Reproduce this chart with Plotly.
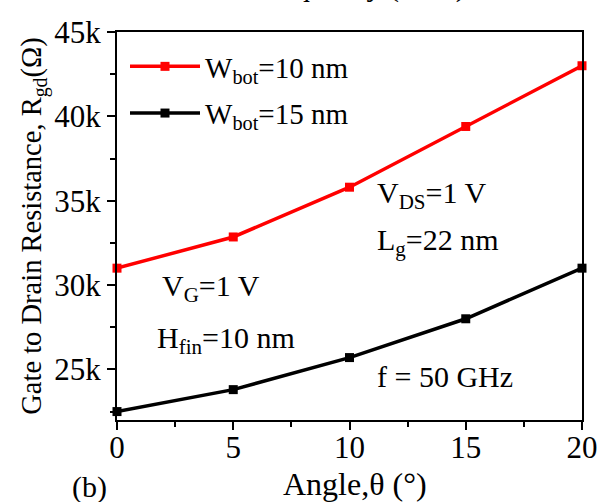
import plotly.graph_objects as go

angle = [0, 5, 10, 15, 20]
r_w10 = [31000, 32850, 35800, 39400, 43000]
r_w15 = [22500, 23800, 25700, 28000, 31000]
series_names = ["W<sub>bot</sub>=10 nm", "W<sub>bot</sub>=15 nm"]
y_ticks = [25000, 30000, 35000, 40000, 45000]
y_ticktext = ["25k", "30k", "35k", "40k", "45k"]
x_ticks = [0, 5, 10, 15, 20]

FONT = "Liberation Serif, Times New Roman, serif"
W, H = 611, 502
ml, mr, mt, mb = 117, 29, 32, 82
pw, ph = W - ml - mr, H - mt - mb

fig = go.Figure()
fig.add_trace(go.Scatter(x=angle, y=r_w10, mode="lines+markers", name=series_names[0],
                         line=dict(color="#ff0000", width=3.5),
                         marker=dict(symbol="square", size=9, color="#ff0000"),
                         legendgroup="a", cliponaxis=False))
fig.add_trace(go.Scatter(x=angle, y=r_w15, mode="lines+markers", name=series_names[1],
                         line=dict(color="#000000", width=3.5),
                         marker=dict(symbol="square", size=9, color="#000000"),
                         legendgroup="b", cliponaxis=False))

axis_common = dict(showline=True, linecolor="black", linewidth=2, mirror=True,
                   ticks="outside", ticklen=8, tickwidth=2, tickcolor="black",
                   showgrid=False, zeroline=False, automargin=False,
                   tickfont=dict(family=FONT, size=31, color="black"))

fig.update_xaxes(range=[0, 20], tickvals=x_ticks, ticklabelstandoff=-9,
                 minor=dict(dtick=2.5, tick0=0, ticks="outside", ticklen=5, tickwidth=2, tickcolor="black"),
                 **axis_common)
fig.update_yaxes(range=[22000, 45000], tickvals=y_ticks, ticktext=y_ticktext,
                 minor=dict(dtick=2500, tick0=0, ticks="outside", ticklen=5, tickwidth=2, tickcolor="black"),
                 title=dict(text="Gate to Drain Resistance, R<sub>gd</sub>(Ω)",
                            font=dict(family=FONT, size=28.5, color="black"), standoff=4),
                 **axis_common)

def px_x(x):
    return (x - ml) / pw

def px_y(y):
    return 1 - (y - mt) / ph

annots = [
    ("V<sub>DS</sub>=1 V", 375, 195),
    ("L<sub>g</sub>=22 nm", 375, 242),
    ("V<sub>G</sub>=1 V", 160, 288),
    ("H<sub>fin</sub>=10 nm", 155, 340),
    ("f = 50 GHz", 375, 376),
]
for t, x, y in annots:
    fig.add_annotation(text=t, x=px_x(x), y=px_y(y), xref="paper", yref="paper",
                       xanchor="left", yanchor="middle", showarrow=False,
                       font=dict(family=FONT, size=30, color="black"))

fig.add_annotation(text="Angle,θ (°)", x=px_x(355), y=px_y(484), xref="paper", yref="paper",
                   xanchor="center", yanchor="middle", showarrow=False,
                   font=dict(family=FONT, size=32, color="black"))
fig.add_annotation(text="(b)", x=px_x(70), y=px_y(487), xref="paper", yref="paper",
                   xanchor="left", yanchor="middle", showarrow=False,
                   font=dict(family=FONT, size=30, color="black"))
fig.add_annotation(text="Frequency (GHz)", x=px_x(360), y=px_y(-14), xref="paper", yref="paper",
                   xanchor="center", yanchor="middle", showarrow=False,
                   font=dict(family=FONT, size=30, color="black"))

fig.update_layout(
    width=W, height=H,
    margin=dict(l=ml, r=mr, t=mt, b=mb),
    paper_bgcolor="white", plot_bgcolor="white",
    font=dict(family=FONT, color="black"),
    showlegend=True,
    legend=dict(x=px_x(125), y=px_y(41), xanchor="left", yanchor="top",
                bgcolor="rgba(0,0,0,0)", font=dict(family=FONT, size=29, color="black"),
                tracegroupgap=6, itemwidth=70),
)

fig.write_html("out.html")
